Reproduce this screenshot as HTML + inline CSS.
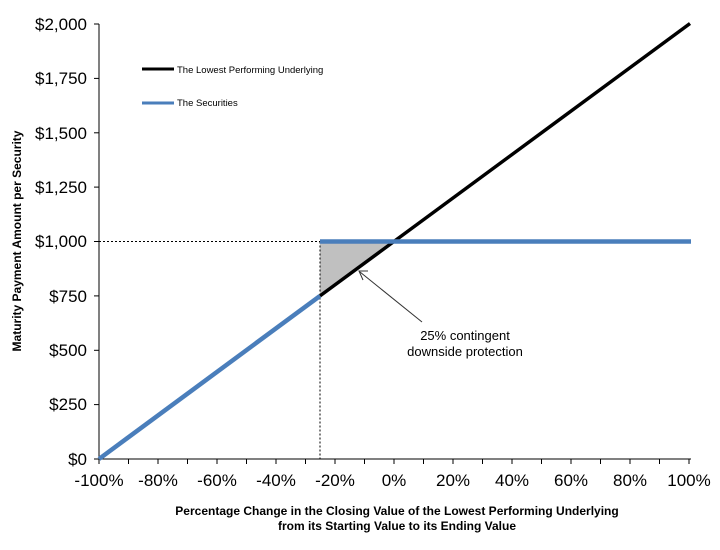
<!DOCTYPE html>
<html><head><style>body{margin:0;background:#fff}</style></head><body>
<svg width="720" height="545" xmlns="http://www.w3.org/2000/svg" font-family="Liberation Sans, Arial, sans-serif">
<rect width="720" height="545" fill="#fff"/>
<polygon points="320,241.5 394,241.5 320,295.9" fill="#c0c0c0"/>
<line x1="99" y1="241.5" x2="320" y2="241.5" stroke="#000" stroke-width="1" stroke-dasharray="2,2"/>
<line x1="320" y1="241.5" x2="320" y2="459" stroke="#000" stroke-width="1" stroke-dasharray="2,2"/>
<line x1="99" y1="24" x2="99" y2="459" stroke="#000" stroke-width="1"/>
<line x1="99" y1="459" x2="691" y2="459" stroke="#000" stroke-width="1"/>
<g stroke="#000" stroke-width="1">
<line x1="94" y1="24" x2="99" y2="24"/><line x1="94" y1="78.4" x2="99" y2="78.4"/>
<line x1="94" y1="132.8" x2="99" y2="132.8"/><line x1="94" y1="187.1" x2="99" y2="187.1"/>
<line x1="94" y1="241.5" x2="99" y2="241.5"/><line x1="94" y1="295.9" x2="99" y2="295.9"/>
<line x1="94" y1="350.3" x2="99" y2="350.3"/><line x1="94" y1="404.6" x2="99" y2="404.6"/>
<line x1="94" y1="459" x2="99" y2="459"/>
</g>
<g stroke="#000">
<line x1="99" y1="459" x2="99" y2="464"/><line x1="128.5" y1="459" x2="128.5" y2="464"/><line x1="158" y1="459" x2="158" y2="464"/><line x1="187.5" y1="459" x2="187.5" y2="464"/><line x1="217" y1="459" x2="217" y2="464"/><line x1="246.5" y1="459" x2="246.5" y2="464"/><line x1="276" y1="459" x2="276" y2="464"/><line x1="305.5" y1="459" x2="305.5" y2="464"/><line x1="335" y1="459" x2="335" y2="464"/><line x1="364.5" y1="459" x2="364.5" y2="464"/><line x1="394" y1="459" x2="394" y2="464"/><line x1="423.5" y1="459" x2="423.5" y2="464"/><line x1="453" y1="459" x2="453" y2="464"/><line x1="482.5" y1="459" x2="482.5" y2="464"/><line x1="512" y1="459" x2="512" y2="464"/><line x1="541.5" y1="459" x2="541.5" y2="464"/><line x1="571" y1="459" x2="571" y2="464"/><line x1="600.5" y1="459" x2="600.5" y2="464"/><line x1="630" y1="459" x2="630" y2="464"/><line x1="659.5" y1="459" x2="659.5" y2="464"/><line x1="689" y1="459" x2="689" y2="464"/>
</g>
<line x1="320" y1="295.9" x2="690" y2="23.5" stroke="#000" stroke-width="3.5"/>
<line x1="99" y1="459" x2="320" y2="295.9" stroke="#4a7ebb" stroke-width="4.5"/>
<line x1="320" y1="241.5" x2="691" y2="241.5" stroke="#4a7ebb" stroke-width="4.5"/>
<g font-size="17" text-anchor="end" fill="#000">
<text x="87" y="30">$2,000</text><text x="87" y="84">$1,750</text><text x="87" y="139">$1,500</text>
<text x="87" y="193">$1,250</text><text x="87" y="247">$1,000</text><text x="87" y="302">$750</text>
<text x="87" y="356">$500</text><text x="87" y="410">$250</text><text x="87" y="465">$0</text>
</g>
<g font-size="17" text-anchor="middle" fill="#000">
<text x="99" y="486">-100%</text><text x="158" y="486">-80%</text><text x="217" y="486">-60%</text>
<text x="276" y="486">-40%</text><text x="335" y="486">-20%</text><text x="394" y="486">0%</text>
<text x="453" y="486">20%</text><text x="512" y="486">40%</text><text x="571" y="486">60%</text>
<text x="630" y="486">80%</text><text x="689" y="486">100%</text>
</g>
<text transform="translate(21,241) rotate(-90)" font-size="12" font-weight="bold" text-anchor="middle">Maturity Payment Amount per Security</text>
<text x="397" y="515" font-size="12" font-weight="bold" text-anchor="middle">Percentage Change in the Closing Value of the Lowest Performing Underlying</text>
<text x="397" y="530" font-size="12" font-weight="bold" text-anchor="middle">from its Starting Value to its Ending Value</text>
<line x1="142" y1="69" x2="174" y2="69" stroke="#000" stroke-width="3"/>
<text x="177" y="73" font-size="9.5">The Lowest Performing Underlying</text>
<line x1="142" y1="103" x2="174" y2="103" stroke="#4a7ebb" stroke-width="3"/>
<text x="177" y="106" font-size="9.5">The Securities</text>
<line x1="422" y1="322" x2="360" y2="272" stroke="#333" stroke-width="1"/>
<polyline points="368,271 359,271 363,280" fill="none" stroke="#333" stroke-width="1"/>
<text x="465" y="340" font-size="13" text-anchor="middle">25% contingent</text>
<text x="465" y="356" font-size="13" text-anchor="middle">downside protection</text>
</svg>
</body></html>
